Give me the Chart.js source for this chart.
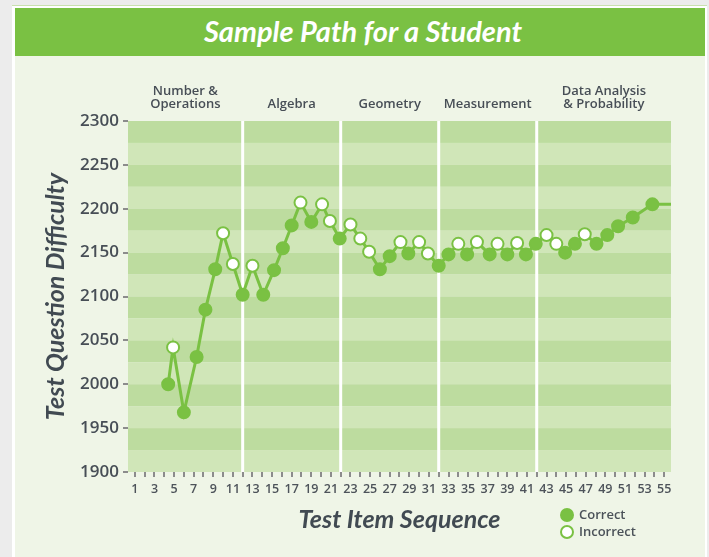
<!DOCTYPE html>
<html>
<head>
<meta charset="utf-8">
<script src="https://cdn.jsdelivr.net/npm/chart.js@4.4.1/dist/chart.umd.min.js"></script>
<style>
  body { margin: 0; width: 709px; height: 557px; overflow: hidden; background: #ececec; position: relative; }
  #card { position: absolute; left: 12px; top: 5px; width: 695px; height: 600px; background: #fff; border-top: 1px solid #c8e1ae; box-sizing: border-box; }
  #inner { position: absolute; left: 15px; top: 8px; width: 690px; height: 600px; background: #eff5e7; }
  #banner { position: absolute; left: 15px; top: 8px; width: 684px; padding-left: 6px; height: 48px; background: #7ac143;
    color: #fff; font: italic 700 29px Lato, sans-serif; text-align: center; line-height: 46px; }
  #chart { position: absolute; left: 0; top: 0; }
  .leg { position: absolute; left: 560px; font: 600 13px "Open Sans", sans-serif; color: #4b5259; }
  .leg span { display: inline-block; width: 10px; height: 10px; border-radius: 50%; border: 2px solid #7ac143; vertical-align: middle; margin-right: 5px; position: relative; top: -1px; }
</style>
</head>
<body>
<div id="card"></div>
<div id="inner"></div>
<div id="banner">Sample Path for a Student</div>
<canvas id="chart" width="709" height="557"></canvas>
<div class="leg" style="top:505px"><span style="background:#7ac143"></span>Correct</div>
<div class="leg" style="top:522px"><span style="background:#fff"></span>Incorrect</div>
<script>
// item position of each answered question
const itemSeq = [4.4, 4.9, 6.0, 7.3, 8.2, 9.2, 10.0, 11.0, 12.0, 13.0,
  14.1, 15.2, 16.1, 17.0, 17.9, 19.0, 20.1, 20.9, 21.9, 23.0,
  24.0, 24.9, 26.0, 27.0, 28.1, 28.9, 30.0, 30.9, 32.0, 33.0,
  34.0, 34.9, 35.9, 37.2, 38.0, 39.0, 40.0, 40.9, 41.9, 43.0,
  44.0, 44.9, 45.9, 46.9, 48.1, 49.2, 50.3, 51.8, 53.8];
const difficulty = [2000, 2042, 1968, 2031, 2085, 2131, 2172, 2137, 2102, 2135,
  2102, 2130, 2155, 2181, 2207, 2185, 2205, 2186, 2166, 2182,
  2166, 2151, 2131, 2146, 2162, 2149, 2162, 2149, 2135, 2148,
  2160, 2148, 2162, 2148, 2160, 2148, 2161, 2148, 2160, 2170,
  2160, 2150, 2160, 2171, 2160, 2170, 2180, 2190, 2205];
// 1 = correct, 0 = incorrect
const correct = [1, 0, 1, 1, 1, 1, 0, 0, 1, 0,
  1, 1, 1, 1, 0, 1, 0, 0, 1, 0,
  0, 0, 1, 1, 0, 1, 0, 0, 1, 1,
  0, 1, 0, 1, 0, 1, 0, 1, 1, 0,
  0, 1, 1, 0, 1, 1, 1, 1, 1];

const strands = ['Number &|Operations', 'Algebra', 'Geometry', 'Measurement', 'Data Analysis|& Probability'];
const strandBreaks = [12, 22, 32, 42];
const xMin = 0.3, xMax = 55.7;
const yMin = 1900, yMax = 2300;

const green = '#7ac143';
const textGray = '#474e56';

const points = itemSeq.map((x, i) => ({ x: x, y: difficulty[i] }));
// the path runs on to the edge of the plot
points.push({ x: xMax, y: difficulty[difficulty.length - 1] });
const fills = correct.map(c => c ? green : '#ffffff').concat([green]);
const radii = correct.map(() => 6).concat([0]);

const backdrop = {
  id: 'backdrop',
  beforeDatasetsDraw(chart) {
    const { ctx, chartArea: a, scales: { x, y } } = chart;
    ctx.save();
    // stripes, darker just below each 50 tick
    for (let v = yMax; v > yMin; v -= 25) {
      ctx.fillStyle = (v % 50 === 0) ? '#bddc9f' : '#d0e6b8';
      const t = y.getPixelForValue(v), b = y.getPixelForValue(v - 25);
      ctx.fillRect(a.left, t, a.right - a.left, b - t);
    }
    ctx.strokeStyle = '#ffffff';
    ctx.lineWidth = 3;
    strandBreaks.forEach(s => {
      const px = x.getPixelForValue(s);
      ctx.beginPath();
      ctx.moveTo(px, a.top);
      ctx.lineTo(px, a.bottom);
      ctx.stroke();
    });
    // strand names over each section
    const edges = [xMin].concat(strandBreaks, [xMax]);
    ctx.fillStyle = textGray;
    ctx.font = '600 13px "Open Sans", sans-serif';
    ctx.textAlign = 'center';
    ctx.textBaseline = 'middle';
    strands.forEach((s, i) => {
      const cx = (x.getPixelForValue(edges[i]) + x.getPixelForValue(edges[i + 1])) / 2;
      const lines = s.split('|');
      lines.forEach((ln, j) => {
        ctx.fillText(ln, cx, a.top - 17 - (lines.length - 1 - j) * 13);
      });
    });
    ctx.restore();
  }
};

new Chart(document.getElementById('chart'), {
  type: 'line',
  data: {
    datasets: [{
      data: points,
      borderColor: green,
      borderWidth: 3,
      tension: 0,
      pointBackgroundColor: fills,
      pointBorderColor: green,
      pointBorderWidth: 2,
      pointRadius: radii
    }]
  },
  options: {
    responsive: false,
    animation: false,
    layout: { padding: { top: 121, right: 38, left: 15, bottom: 0 } },
    plugins: { legend: { display: false }, tooltip: { enabled: false } },
    scales: {
      x: {
        type: 'linear',
        min: xMin,
        max: xMax,
        afterFit(scale) { scale.height = 85; },
        border: { display: false },
        grid: { drawOnChartArea: false, tickLength: 5, color: '#8c8c8c', lineWidth: 2 },
        ticks: {
          stepSize: 1,
          includeBounds: false,
          autoSkip: false,
          maxRotation: 0,
          padding: 5,
          color: '#4d535a',
          font: { family: '"Open Sans", sans-serif', size: 12.5, weight: '600' },
          callback: v => (v % 2 === 1 ? String(v) : '')
        },
        title: {
          display: true,
          text: 'Test Item Sequence',
          color: '#414a52',
          font: { family: 'Lato, sans-serif', size: 25, weight: '700', style: 'italic' },
          padding: { top: 0, bottom: 22 }
        }
      },
      y: {
        min: yMin,
        max: yMax,
        afterFit(scale) { scale.width = 113; },
        border: { display: false },
        grid: { drawOnChartArea: false, tickLength: 5, color: '#8c8c8c', lineWidth: 2 },
        ticks: {
          stepSize: 50,
          padding: 4,
          color: textGray,
          font: { family: '"Open Sans", sans-serif', size: 17, weight: '600' },
          callback: v => String(v)
        },
        title: {
          display: true,
          text: 'Test Question Difficulty',
          color: '#414a52',
          font: { family: 'Lato, sans-serif', size: 25, weight: '700', style: 'italic' },
          padding: { top: 26, bottom: 0 }
        }
      }
    }
  },
  plugins: [backdrop]
});
</script>
</body>
</html>
